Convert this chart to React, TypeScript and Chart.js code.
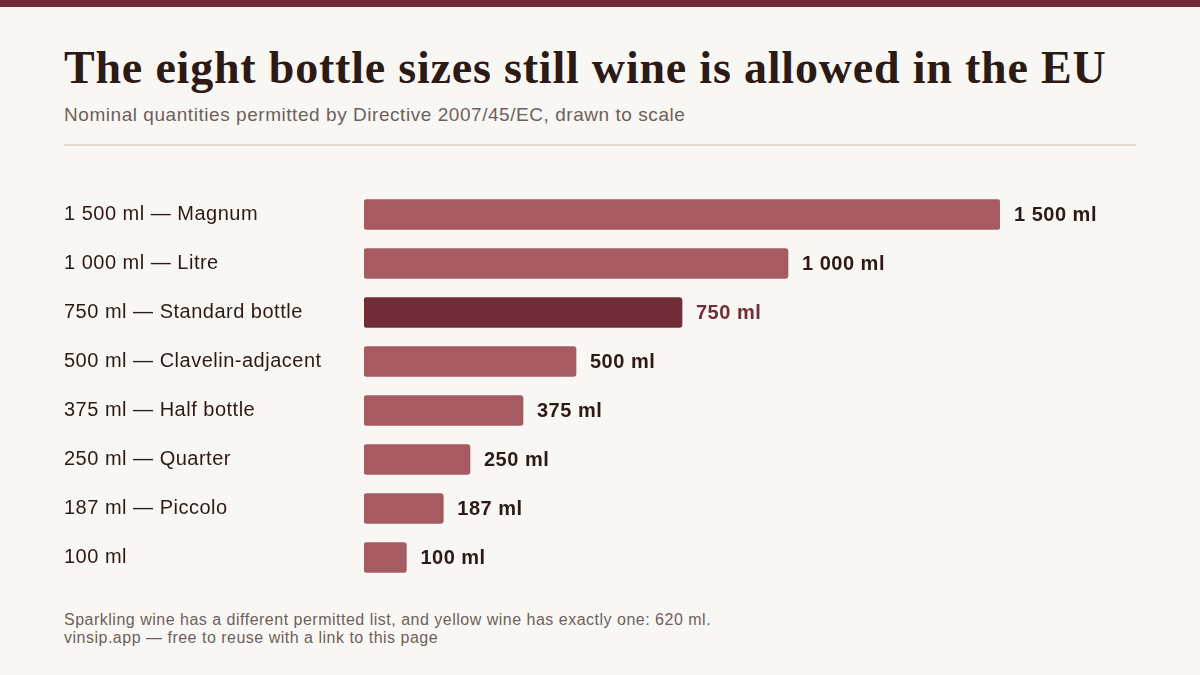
import { useEffect, useRef } from "react"
import { Chart, registerables } from "chart.js"

Chart.register(...registerables)

const sizes = [1500, 1000, 750, 500, 375, 250, 187, 100]
const names = [
  "Magnum",
  "Litre",
  "Standard bottle",
  "Clavelin-adjacent",
  "Half bottle",
  "Quarter",
  "Piccolo",
  ""
]
const highlighted = [false, false, true, false, false, false, false, false]

const fmt = (v: number) =>
  String(v).replace(/\B(?=(\d{3})+(?!\d))/g, " ") + " ml"

const categoryLabels = sizes.map((v, i) =>
  names[i] ? `${fmt(v)} — ${names[i]}` : fmt(v)
)

const BAR = "#a65b62"
const BAR_HI = "#722e38"
const INK = "#2d1a14"
const MUTED = "#6e5f5a"
const SANS = "'Liberation Sans', Arial, sans-serif"

// slightly wider text, closer to the original's Helvetica
const spacing = {
  id: "spacing",
  beforeDraw(chart: Chart) {
    ;(chart.ctx as any).letterSpacing = "0.5px"
  }
}

const valueLabels = {
  id: "valueLabels",
  afterDatasetsDraw(chart: Chart) {
    const ctx = chart.ctx
    const meta = chart.getDatasetMeta(0)
    ctx.save()
    ctx.font = `bold 20px ${SANS}`
    ctx.textBaseline = "middle"
    ctx.textAlign = "left"
    meta.data.forEach((bar: any, i: number) => {
      ctx.fillStyle = highlighted[i] ? BAR_HI : INK
      ctx.fillText(fmt(sizes[i]), bar.x + 14, bar.y + 1)
    })
    ctx.restore()
  }
}

const App = () => {
  const chartRef = useRef<HTMLCanvasElement>(null)

  useEffect(() => {
    if (!chartRef.current) return
    const ctx = chartRef.current.getContext("2d")
    if (!ctx) return
    const chart = new Chart(ctx, {
      type: "bar",
      data: {
        labels: categoryLabels,
        datasets: [
          {
            data: sizes,
            backgroundColor: highlighted.map((h) => (h ? BAR_HI : BAR)),
            borderRadius: 3,
            borderSkipped: false,
            barThickness: 30
          }
        ]
      },
      options: {
        indexAxis: "y",
        animation: false,
        responsive: false,
        maintainAspectRatio: false,
        layout: { padding: { left: 64, right: 200, top: 0, bottom: 0 } },
        plugins: {
          legend: { display: false },
          tooltip: { enabled: false }
        },
        scales: {
          x: {
            display: false,
            min: 0,
            max: 1500
          },
          y: {
            grid: { display: false, drawTicks: false },
            border: { display: false },
            ticks: {
              crossAlign: "far",
              color: INK,
              font: { family: SANS, size: 20 }
            },
            afterFit: (axis: any) => {
              axis.width = 300
              axis.paddingTop = 0
              axis.paddingBottom = 0
            }
          }
        }
      },
      plugins: [spacing, valueLabels]
    })
    return () => {
      chart.destroy()
    }
  }, [])

  return (
    <div
      style={{
        position: "fixed",
        left: 0,
        top: 0,
        width: 1200,
        height: 675,
        background: "#f9f7f4",
        overflow: "hidden",
        fontFamily: SANS
      }}
    >
      <div
        style={{
          position: "absolute",
          left: 0,
          top: 0,
          width: 1200,
          height: 7,
          background: BAR_HI
        }}
      />
      <div
        style={{
          position: "absolute",
          left: 64,
          top: 41,
          fontFamily: "'Liberation Serif', 'Times New Roman', serif",
          fontWeight: "bold",
          fontSize: 46,
          letterSpacing: "0.8px",
          lineHeight: "54px",
          color: INK,
          whiteSpace: "nowrap"
        }}
      >
        The eight bottle sizes still wine is allowed in the EU
      </div>
      <div
        style={{
          position: "absolute",
          left: 64,
          top: 104,
          fontSize: 19,
          letterSpacing: "0.55px",
          lineHeight: "22px",
          color: MUTED,
          whiteSpace: "nowrap"
        }}
      >
        Nominal quantities permitted by Directive 2007/45/EC, drawn to scale
      </div>
      <div
        style={{
          position: "absolute",
          left: 64,
          top: 144,
          width: 1072,
          height: 2,
          background: "#e3d8cf"
        }}
      />
      <canvas
        ref={chartRef}
        width={1200}
        height={392}
        style={{ position: "absolute", left: 0, top: 190 }}
      />
      <div
        style={{
          position: "absolute",
          left: 64,
          top: 611,
          fontSize: 16,
          letterSpacing: "0.5px",
          lineHeight: "18px",
          color: MUTED,
          whiteSpace: "nowrap"
        }}
      >
        Sparkling wine has a different permitted list, and yellow wine has exactly one: 620 ml.
        <br />
        vinsip.app — free to reuse with a link to this page
      </div>
    </div>
  )
}

export default App
